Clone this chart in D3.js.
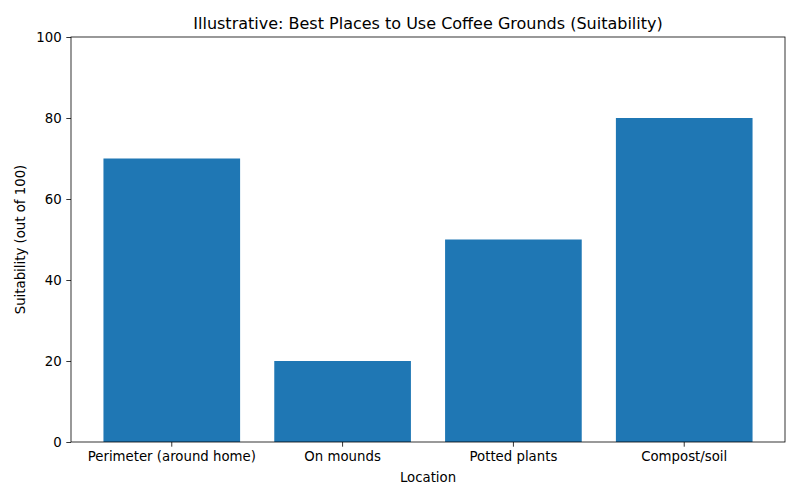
<!DOCTYPE html>
<html>
<head>
<meta charset="utf-8">
<script src="https://cdn.jsdelivr.net/npm/d3@7"></script>
<style>
  body { margin: 0; background: #fff; }
  text { font-family: "DejaVu Sans", sans-serif; fill: #000; }
</style>
</head>
<body>
<svg id="chart" width="800" height="500"></svg>
<script>
// data
var categories = ['Perimeter (around home)', 'On mounds', 'Potted plants', 'Compost/soil'];
var suitability = [70, 20, 50, 80];
var yTicks = [0, 20, 40, 60, 80, 100];

var margin = {top: 37, right: 15, bottom: 58, left: 71},
    width = 800 - margin.left - margin.right,
    height = 500 - margin.top - margin.bottom;

var svg = d3.select('#chart');
var g = svg.append('g').attr('transform', 'translate(' + margin.left + ',' + margin.top + ')');

// matplotlib-like spacing: bar width 0.8, 5% margins
var x = d3.scaleBand().domain(categories).range([0, width]).paddingInner(0.2).paddingOuter(0.19);
var y = d3.scaleLinear().domain([0, 100]).range([height, 0]);

g.selectAll('.bar').data(suitability).enter().append('rect')
  .attr('class', 'bar')
  .attr('x', function(d, i) { return x(categories[i]); })
  .attr('y', function(d) { return y(d); })
  .attr('width', x.bandwidth())
  .attr('height', function(d) { return height - y(d); })
  .attr('fill', '#1f77b4');

var xAxis = g.append('g').attr('transform', 'translate(0,' + height + ')')
  .call(d3.axisBottom(x).tickSize(4.7).tickPadding(5).tickSizeOuter(0));
var yAxis = g.append('g')
  .call(d3.axisLeft(y).tickValues(yTicks).tickSize(4.7).tickPadding(4.7).tickSizeOuter(0));

[xAxis, yAxis].forEach(function(a) {
  a.select('.domain').remove();
  a.selectAll('line').attr('stroke', '#000').attr('stroke-width', 0.8);
  a.selectAll('text').style('font-size', '13.3px').style('font-family', '"DejaVu Sans", sans-serif');
});

// frame
g.append('rect').attr('width', width).attr('height', height)
  .attr('fill', 'none').attr('stroke', '#000').attr('stroke-width', 0.8);

svg.append('text').attr('x', margin.left + width / 2).attr('y', 29)
  .attr('text-anchor', 'middle').style('font-size', '16px')
  .text('Illustrative: Best Places to Use Coffee Grounds (Suitability)');

svg.append('text').attr('x', margin.left + width / 2).attr('y', 482)
  .attr('text-anchor', 'middle').style('font-size', '13.3px')
  .text('Location');

svg.append('text')
  .attr('transform', 'translate(25,' + (margin.top + height / 2) + ') rotate(-90)')
  .attr('text-anchor', 'middle').style('font-size', '13.3px')
  .text('Suitability (out of 100)');
</script>
</body>
</html>
